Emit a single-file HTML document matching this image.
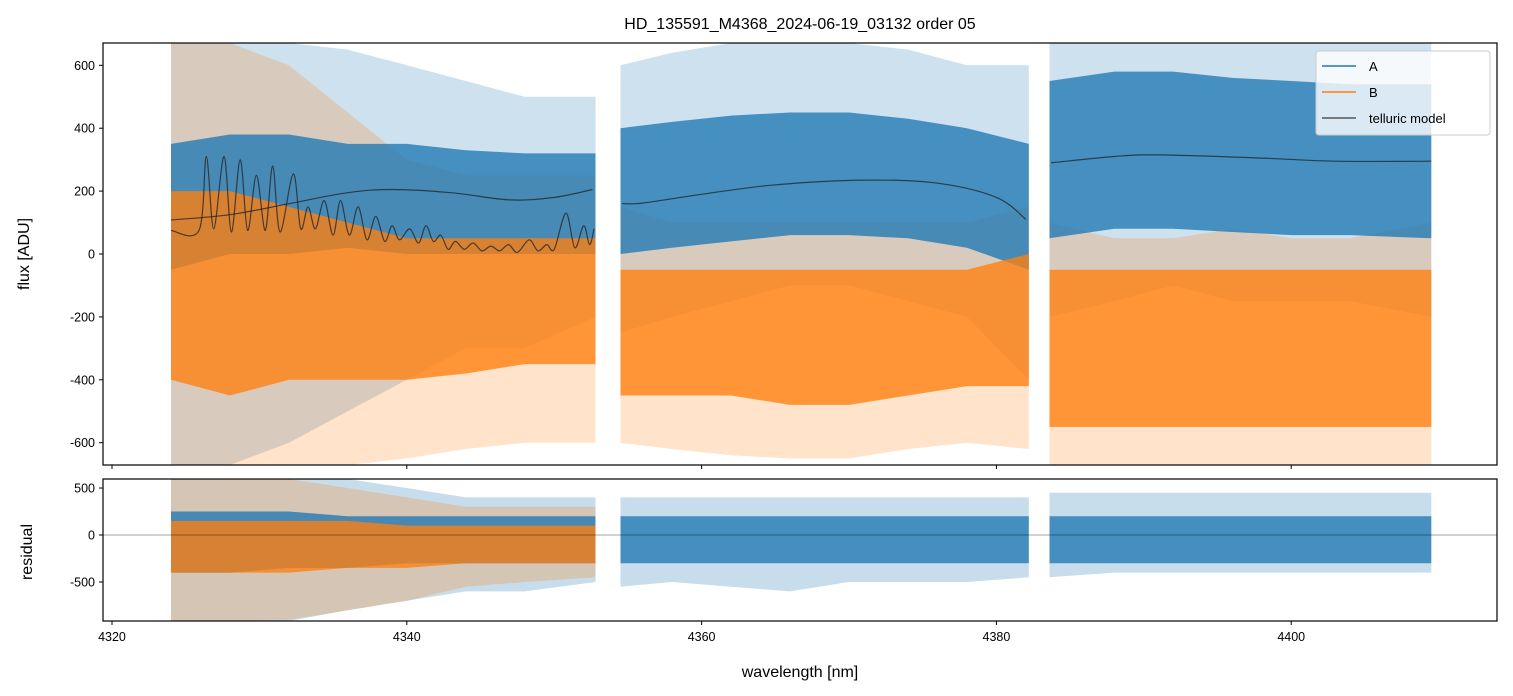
<!DOCTYPE html>
<html><head><meta charset="utf-8"><style>
body{margin:0;background:#fff;}
svg{display:block;font-family:"Liberation Sans","DejaVu Sans",sans-serif;}
</style></head><body>
<svg id="chart" width="1513" height="696" xmlns="http://www.w3.org/2000/svg">
<rect width="1513" height="696" fill="#fff"/>
<text x="800" y="29" font-size="16" text-anchor="middle">HD_135591_M4368_2024-06-19_03132  order 05</text>
<g id="main"></g>
<g id="resid"></g>
<text transform="translate(29,254) rotate(-90)" font-size="16" text-anchor="middle">flux [ADU]</text>
<text transform="translate(32,552) rotate(-90)" font-size="16" text-anchor="middle">residual</text>
<text x="800" y="677" font-size="16" text-anchor="middle">wavelength [nm]</text>
</svg>
<script>
// ---- data ----
const xTicks = [4320, 4340, 4360, 4380, 4400];
const fluxTicks = [-600, -400, -200, 0, 200, 400, 600];
const residTicks = [-500, 0, 500];
const segWl = [
  [4324, 4328, 4332, 4336, 4340, 4344, 4348, 4352.8],
  [4354.5, 4358, 4362, 4366, 4370, 4374, 4378, 4382.2],
  [4383.6, 4388, 4392, 4396, 4400, 4404, 4409.5]
];
const aInnerLo = [[-50,0,0,20,0,0,0,0],[0,20,40,60,60,50,20,-50],[50,80,80,70,60,60,50]];
const aInnerHi = [[350,380,380,350,350,330,320,320],[400,420,440,450,450,430,400,350],[550,580,580,560,550,540,540]];
const aOuterLo = [[-671,-671,-600,-500,-400,-300,-300,-200],[-250,-200,-150,-100,-100,-150,-200,-400],[-200,-150,-100,-150,-150,-150,-200]];
const aOuterHi = [[671,671,671,650,600,550,500,500],[600,640,671,671,671,650,600,600],[671,671,671,671,671,671,671]];
const bInnerLo = [[-400,-450,-400,-400,-400,-380,-350,-350],[-450,-450,-450,-480,-480,-450,-420,-420],[-550,-550,-550,-550,-550,-550,-550]];
const bInnerHi = [[200,200,150,100,50,50,50,50],[-50,-50,-50,-50,-50,-50,-50,0],[-50,-50,-50,-50,-50,-50,-50]];
const bOuterLo = [[-671,-671,-671,-671,-650,-620,-600,-600],[-600,-620,-640,-650,-650,-620,-600,-620],[-671,-671,-671,-671,-671,-671,-671]];
const bOuterHi = [[671,671,600,450,300,250,250,250],[150,100,100,100,100,100,100,150],[100,50,50,80,50,50,100]];
const rAInnerLo = [[-400,-400,-350,-350,-300,-300,-300,-300],[-300,-300,-300,-300,-300,-300,-300,-300],[-300,-300,-300,-300,-300,-300,-300]];
const rAInnerHi = [[250,250,250,200,200,200,200,200],[200,200,200,200,200,200,200,200],[200,200,200,200,200,200,200]];
const rAOuterLo = [[-915,-915,-915,-800,-700,-600,-600,-500],[-550,-500,-550,-600,-500,-500,-500,-450],[-450,-400,-400,-400,-400,-400,-400]];
const rAOuterHi = [[596,596,596,596,500,400,400,400],[400,400,400,400,400,400,400,400],[450,450,450,450,450,450,450]];
const rBInnerLo = [[-400,-400,-400,-350,-350,-300,-300,-300]];
const rBInnerHi = [[150,150,150,150,100,100,100,100]];
const rBOuterLo = [[-915,-915,-900,-800,-700,-550,-500,-450]];
const rBOuterHi = [[596,596,596,500,400,300,300,300]];
const modelSmoothWl = [[4324,4328,4332,4336,4339,4343,4347,4350,4352.6],[4354.6,4356,4360,4365,4371,4376,4380,4382],[4383.7,4388,4391,4398,4403,4409.5]];
const modelSmoothY = [[108,125,160,195,205,195,172,180,205],[160,162,190,220,235,225,180,110],[290,310,315,305,295,295]];
const modelOscWl = [4324,4325.9,4326.4,4326.9,4327.6,4328.1,4328.7,4329.2,4329.8,4330.4,4330.9,4331.4,4332.3,4332.8,4333.3,4333.8,4334.4,4335.0,4335.5,4336.1,4336.7,4337.3,4337.9,4338.5,4339.0,4339.5,4340.2,4340.8,4341.3,4341.8,4342.3,4342.8,4343.3,4343.9,4344.5,4345.1,4345.7,4346.3,4346.9,4347.5,4348.3,4348.9,4349.5,4350.0,4350.8,4351.4,4352.0,4352.4,4352.7];
const modelOscY = [75,75,310,80,310,70,300,75,250,75,280,70,255,80,150,80,170,60,170,60,150,45,120,40,90,45,80,35,90,40,60,15,40,15,35,10,25,10,30,5,45,10,30,15,130,20,90,30,80];

// ---- axes ----
const NS = "http://www.w3.org/2000/svg";
const X0 = 4319.39, X1 = 4413.96, PL = 103, PR = 1497;
const xs = w => PL + (w - X0) / (X1 - X0) * (PR - PL);
const main = {top:43, bot:465, min:-671, max:671};
const res = {top:479, bot:621, min:-915, max:596};
const ys = (ax, v) => ax.bot - (Math.max(ax.min, Math.min(ax.max, v)) - ax.min) / (ax.max - ax.min) * (ax.bot - ax.top);
function mk(tag, attrs, parent){ const e = document.createElementNS(NS, tag); for (const k in attrs) e.setAttribute(k, attrs[k]); parent.appendChild(e); return e; }

function band(g, ax, wl, lo, hi, color, op, name){
  let d = "";
  wl.forEach((w,i)=>{ d += (i? "L":"M") + xs(w).toFixed(1) + "," + ys(ax, hi[i]).toFixed(1); });
  for (let i = wl.length-1; i >= 0; i--) d += "L" + xs(wl[i]).toFixed(1) + "," + ys(ax, lo[i]).toFixed(1);
  const p = mk("path", {d: d + "Z", fill: color, "fill-opacity": op}, g);
  
  
}
function smoothLine(g, ax, wl, y, color, w, name){
  const P = wl.map((v,i)=>[xs(v), ys(ax, y[i])]);
  let d = "M" + P[0][0].toFixed(1) + "," + P[0][1].toFixed(1);
  for (let i = 0; i < P.length-1; i++){
    const p0 = P[Math.max(0,i-1)], p1 = P[i], p2 = P[i+1], p3 = P[Math.min(P.length-1,i+2)];
    const c1 = [p1[0]+(p2[0]-p0[0])/6, p1[1]+(p2[1]-p0[1])/6];
    const c2 = [p2[0]-(p3[0]-p1[0])/6, p2[1]-(p3[1]-p1[1])/6];
    d += "C" + c1[0].toFixed(1)+","+c1[1].toFixed(1)+" "+c2[0].toFixed(1)+","+c2[1].toFixed(1)+" "+p2[0].toFixed(1)+","+p2[1].toFixed(1);
  }
  const p = mk("path", {d: d, fill: "none", stroke: color, "stroke-width": w, "stroke-opacity": 0.75}, g);
  
  
}
function frame(g, ax, ticks, showLabels){
  const cp = mk("clipPath", {id: "clip" + ax.top}, g);
  mk("rect", {x: PL, y: ax.top, width: PR-PL, height: ax.bot-ax.top}, cp);
  const data = mk("g", {"clip-path": "url(#clip" + ax.top + ")"}, g);
  
  
  ticks.forEach(t => {
    const y = ys(ax, t);
    const tk = mk("line", {x1: PL-4, x2: PL, y1: y, y2: y, stroke: "#000", "stroke-width": 1}, g);
    
    
    const tx = mk("text", {x: PL-8, y: y+4.5, "font-size": 12.5, "text-anchor": "end"}, g);
    tx.textContent = t;
    
    
  });
  xTicks.forEach(t => {
    const x = xs(t);
    const tk = mk("line", {x1: x, x2: x, y1: ax.bot, y2: ax.bot+4, stroke: "#000", "stroke-width": 1}, g);
    
    
    if (showLabels){
      const tx = mk("text", {x: x, y: ax.bot+20, "font-size": 12.5, "text-anchor": "middle"}, g);
      tx.textContent = t;
      
      
    }
  });
  return data;
}
function border(g, ax){
  const r = mk("rect", {x: PL, y: ax.top, width: PR-PL, height: ax.bot-ax.top, fill: "none", stroke: "#000", "stroke-width": 1.2}, g);
  
  
}
const BLUE = "#1f77b4", ORANGE = "#ff7f0e";

// main panel
const gm = document.getElementById("main");
const dm = frame(gm, main, fluxTicks, false);
segWl.forEach((wl, s) => band(dm, main, wl, aOuterLo[s], aOuterHi[s], BLUE, 0.22, "series-a-spikes"));
segWl.forEach((wl, s) => band(dm, main, wl, bOuterLo[s], bOuterHi[s], ORANGE, 0.22, "series-b-spikes"));
segWl.forEach((wl, s) => band(dm, main, wl, aInnerLo[s], aInnerHi[s], BLUE, 0.78, "series-a-flux"));
segWl.forEach((wl, s) => band(dm, main, wl, bInnerLo[s], bInnerHi[s], ORANGE, 0.78, "series-b-flux"));
modelSmoothWl.forEach((wl, s) => smoothLine(dm, main, wl, modelSmoothY[s], "#222", 1.2, "telluric-model-line"));
smoothLine(dm, main, modelOscWl, modelOscY, "#222", 1.2, "telluric-model-b-line");
border(gm, main);

// legend
const lg = mk("g", {}, gm);


mk("rect", {x: 1316, y: 51, width: 174, height: 84, rx: 3, fill: "#fff", "fill-opacity": 0.8, stroke: "#ccc"}, lg);
[["A", BLUE], ["B", ORANGE], ["telluric model", "#555"]].forEach((e, i) => {
  const y = 66 + i*26;
  const ln = mk("line", {x1: 1322, x2: 1356, y1: y, y2: y, stroke: e[1], "stroke-width": 1.5}, lg);
  
  
  const tx = mk("text", {x: 1369, y: y+5, "font-size": 13}, lg);
  tx.textContent = e[0];
  
  
});

// residual panel
const gr = document.getElementById("resid");
const dr = frame(gr, res, residTicks, true);
segWl.forEach((wl, s) => band(dr, res, wl, rAOuterLo[s], rAOuterHi[s], BLUE, 0.25, "residual-a-spikes"));
rBInnerLo.forEach((lo, s) => band(dr, res, segWl[s], rBOuterLo[s], rBOuterHi[s], ORANGE, 0.25, "residual-b-spikes"));
segWl.forEach((wl, s) => band(dr, res, wl, rAInnerLo[s], rAInnerHi[s], BLUE, 0.78, "residual-a"));
rBInnerLo.forEach((lo, s) => band(dr, res, segWl[s], lo, rBInnerHi[s], ORANGE, 0.78, "residual-b"));
const zl = mk("line", {x1: PL, x2: PR, y1: ys(res, 0), y2: ys(res, 0), stroke: "#000", "stroke-width": 0.6, "stroke-opacity": 0.7}, dr);


border(gr, res);
</script>
</body></html>
